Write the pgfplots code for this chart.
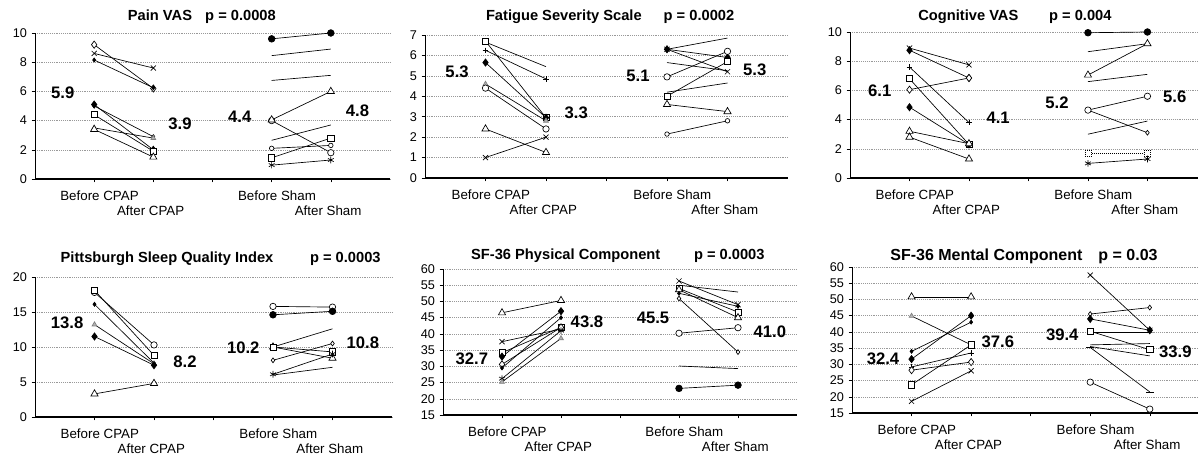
\documentclass[border=0pt]{standalone}
\usepackage{fontspec}
\setmainfont{Liberation Sans}
\usepackage{pgfplots}
\pgfplotsset{compat=1.18}

% marker styles for the subject lines
\pgfplotsset{
  od/.style={mark=diamond*, mark size=2.7pt, mark options={fill=white, draw=black}},
  sod/.style={mark=diamond*, mark size=1.8pt, mark options={fill=white, draw=black}},
  fd/.style={mark=diamond*, mark size=2.7pt},
  sd/.style={mark=diamond*, mark size=1.5pt},
  xx/.style={mark=x, mark size=2.7pt},
  sq/.style={mark=square*, mark size=2.3pt, mark options={fill=white, draw=black}},
  tr/.style={mark=triangle*, mark size=3.1pt, mark options={fill=white, draw=black}},
  str/.style={mark=triangle*, mark size=2.1pt, mark options={fill=gray!60, draw=gray}},
  fc/.style={mark=*, mark size=2.5pt},
  oc/.style={mark=*, mark size=2.4pt, mark options={fill=white, draw=black}},
  soc/.style={mark=*, mark size=1.7pt, mark options={fill=white, draw=black}},
  as/.style={mark=asterisk, mark size=2.5pt},
  pl/.style={mark=+, mark size=2.1pt},
  nm/.style={mark=none},
  panel/.style={
    scale only axis,
    anchor=south west,
    axis x line*=bottom, axis y line*=left,
    xmin=0, xmax=6,
    xtick={1,4}, xticklabels={Before CPAP, Before Sham},
    minor xtick={3},
    extra x ticks={2,5}, extra x tick labels={After CPAP, After Sham},
    extra x tick style={grid=none, xticklabel style={xshift=-6pt, yshift=-11pt}},
    ymajorgrids,
    major grid style={densely dotted, gray!80, line width=0.4pt},
    tick align=outside, tick style={black, line width=0.4pt},
    major tick length=2.5pt, minor tick length=2.5pt,
    xticklabel style={font=\fontsize{10}{12}\selectfont, xshift=4pt, yshift=-3pt},
    yticklabel style={font=\fontsize{9.5}{11}\selectfont},
    /pgf/number format/assume math mode=true,
    x axis line style={line width=1pt},
    y axis line style={line width=0.5pt},
    title style={font=\bfseries\fontsize{11}{13}\selectfont, anchor=center},
    clip=false,
    every axis plot/.append style={black, line width=0.5pt, mark options={solid}},
  },
}
\tikzset{meanl/.style={font=\bfseries\fontsize{12.5}{14}\selectfont}}

\begin{document}
\begin{tikzpicture}
\useasboundingbox (0,0) rectangle (898.5pt,342pt);

% ---------------- Pain VAS
\begin{axis}[panel, at={(26.25pt,207.75pt)}, width=266.25pt, height=109.5pt,
  ymin=0, ymax=10, ytick={0,2,...,10},
  title={Pain VAS\hspace{0.9em}p = 0.0008},
  title style={at={(0.47,1)}, yshift=6pt}]
\addplot[od]  coordinates {(1,9.2) (2,6.2)};
\addplot[xx]  coordinates {(1,8.6) (2,7.6)};
\addplot[sd]  coordinates {(1,8.15) (2,6.25)};
\addplot[fd]  coordinates {(1,5.1) (2,2.0)};
\addplot[sd]  coordinates {(1,5.0) (2,2.9)};
\addplot[sq]  coordinates {(1,4.4) (2,1.9)};
\addplot[str] coordinates {(1,3.5) (2,2.8)};
\addplot[tr]  coordinates {(1,3.4) (2,1.5)};
\addplot[fc]  coordinates {(4,9.6) (5,10.0)};
\addplot[nm]  coordinates {(4,8.45) (5,8.9)};
\addplot[nm]  coordinates {(4,6.75) (5,7.1)};
\addplot[oc]  coordinates {(4,4.0) (5,1.8)};
\addplot[tr]  coordinates {(4,4.05) (5,6.0)};
\addplot[nm]  coordinates {(4,2.65) (5,3.7)};
\addplot[soc] coordinates {(4,2.1) (5,2.3)};
\addplot[sq]  coordinates {(4,1.45) (5,2.8)};
\addplot[as]  coordinates {(4,0.95) (5,1.3)};
\node[meanl] at (axis cs:0.47,5.9) {5.9};
\node[meanl] at (axis cs:2.45,3.8) {3.9};
\node[meanl] at (axis cs:3.46,4.27) {4.4};
\node[meanl] at (axis cs:5.45,4.7) {4.8};
\end{axis}

% ---------------- Fatigue Severity Scale
\begin{axis}[panel, at={(318.75pt,208.5pt)}, width=272.25pt, height=107.25pt,
  ymin=0, ymax=7, ytick={0,1,...,7},
  title={Fatigue Severity Scale\hspace{1.5em}p = 0.0002},
  title style={at={(0.51,1)}, yshift=7.5pt}]
\addplot[sq]  coordinates {(1,6.7) (2,2.95)};
\addplot[nm]  coordinates {(1,6.65) (2,5.45)};
\addplot[pl]  coordinates {(1,6.25) (2,4.85)};
\addplot[fd]  coordinates {(1,5.65) (2,2.95)};
\addplot[str] coordinates {(1,4.6) (2,2.8)};
\addplot[oc]  coordinates {(1,4.4) (2,2.4)};
\addplot[tr]  coordinates {(1,2.4) (2,1.25)};
\addplot[xx]  coordinates {(1,1.0) (2,2.0)};
\addplot[nm]  coordinates {(4,6.3) (5,6.85)};
\addplot[xx]  coordinates {(4,6.3) (5,5.2)};
\addplot[fd]  coordinates {(4,6.3) (5,5.9)};
\addplot[nm]  coordinates {(4,5.65) (5,5.25)};
\addplot[oc]  coordinates {(4,4.95) (5,6.2)};
\addplot[nm]  coordinates {(4,4.2) (5,4.65)};
\addplot[sq]  coordinates {(4,4.0) (5,5.7)};
\addplot[tr]  coordinates {(4,3.6) (5,3.25)};
\addplot[soc] coordinates {(4,2.15) (5,2.8)};
\node[meanl] at (axis cs:0.53,5.2) {5.3};
\node[meanl] at (axis cs:2.5,3.2) {3.3};
\node[meanl] at (axis cs:3.52,5.0) {5.1};
\node[meanl] at (axis cs:5.45,5.3) {5.3};
\end{axis}

% ---------------- Cognitive VAS
\begin{axis}[panel, at={(637.5pt,208.5pt)}, width=261pt, height=109.5pt,
  xmax=5.85, ymin=0, ymax=10, ytick={0,2,...,10},
  title={Cognitive VAS\hspace{2.1em}p = 0.004},
  title style={at={(0.474,1)}, yshift=5.25pt}]
\addplot[xx]  coordinates {(1,8.9) (2,7.75)};
\addplot[fd]  coordinates {(1,8.75) (2,6.85)};
\addplot[pl]  coordinates {(1,7.6) (2,3.8)};
\addplot[sq]  coordinates {(1,6.8) (2,2.3)};
\addplot[od]  coordinates {(1,6.05) (2,6.85)};
\addplot[fd]  coordinates {(1,4.85) (2,2.3)};
\addplot[tr]  coordinates {(1,3.2) (2,2.35)};
\addplot[tr]  coordinates {(1,2.8) (2,1.3)};
\addplot[fc]  coordinates {(4,9.95) (5,10.0)};
\addplot[nm]  coordinates {(4,8.65) (5,9.2)};
\addplot[tr]  coordinates {(4,7.05) (5,9.2)};
\addplot[nm]  coordinates {(4,6.6) (5,7.1)};
\addplot[sod] coordinates {(4,4.65) (5,3.1)};
\addplot[oc]  coordinates {(4,4.65) (5,5.6)};
\addplot[nm]  coordinates {(4,3.0) (5,3.9)};
\addplot[sq, densely dotted] coordinates {(4,1.7) (5,1.7)};
\addplot[as]  coordinates {(4,1.0) (5,1.3)};
\node[meanl] at (axis cs:0.5,6.0) {6.1};
\node[meanl] at (axis cs:2.49,4.1) {4.1};
\node[meanl] at (axis cs:3.48,5.16) {5.2};
\node[meanl] at (axis cs:5.46,5.57) {5.6};
\end{axis}

% ---------------- Pittsburgh Sleep Quality Index
\begin{axis}[panel, at={(26.25pt,29.25pt)}, width=267.75pt, height=105pt,
  ymin=0, ymax=20, ytick={0,5,...,20},
  title={Pittsburgh Sleep Quality Index\hspace{2.5em}p = 0.0003},
  title style={at={(0.52,1)}, yshift=8pt}]
\addplot[oc]  coordinates {(1,17.8) (2,10.3)};
\addplot[sq]  coordinates {(1,18.1) (2,8.8)};
\addplot[sd]  coordinates {(1,16.1) (2,7.7)};
\addplot[str] coordinates {(1,13.2) (2,7.6)};
\addplot[fd]  coordinates {(1,11.5) (2,7.4)};
\addplot[tr]  coordinates {(1,3.3) (2,4.8)};
\addplot[oc]  coordinates {(4,15.8) (5,15.7)};
\addplot[fc]  coordinates {(4,14.6) (5,15.1)};
\addplot[nm]  coordinates {(4,10.0) (5,12.6)};
\addplot[tr]  coordinates {(4,10.0) (5,8.4)};
\addplot[sq]  coordinates {(4,10.0) (5,9.3)};
\addplot[sod] coordinates {(4,8.1) (5,10.5)};
\addplot[as]  coordinates {(4,6.1) (5,9.0)};
\addplot[nm]  coordinates {(4,6.0) (5,7.1)};
\node[meanl] at (axis cs:0.54,13.5) {13.8};
\node[meanl] at (axis cs:2.52,7.96) {8.2};
\node[meanl] at (axis cs:3.5,9.96) {10.2};
\node[meanl] at (axis cs:5.51,10.57) {10.8};
\end{axis}

% ---------------- SF-36 Physical Component
\begin{axis}[panel, at={(332.25pt,30.75pt)}, width=265.5pt, height=109.5pt,
  ymin=15, ymax=60, ytick={15,20,...,60},
  title={SF-36 Physical Component\hspace{2.3em}p = 0.0003},
  title style={at={(0.494,1)}, yshift=4pt}]
\addplot[tr]  coordinates {(1,46.5) (2,50.3)};
\addplot[xx]  coordinates {(1,37.6) (2,41.5)};
\addplot[sq]  coordinates {(1,34.2) (2,42.0)};
\addplot[fd]  coordinates {(1,33.0) (2,47.0)};
\addplot[od]  coordinates {(1,30.6) (2,42.0)};
\addplot[sd]  coordinates {(1,29.5) (2,45.0)};
\addplot[as]  coordinates {(1,26.2) (2,41.0)};
\addplot[str] coordinates {(1,25.2) (2,38.6)};
\addplot[xx]  coordinates {(4,56.3) (5,49.0)};
\addplot[nm]  coordinates {(4,55.0) (5,52.9)};
\addplot[sq]  coordinates {(4,54.0) (5,46.7)};
\addplot[tr]  coordinates {(4,53.6) (5,45.0)};
\addplot[sd]  coordinates {(4,52.5) (5,48.5)};
\addplot[sod] coordinates {(4,50.9) (5,34.4)};
\addplot[oc]  coordinates {(4,40.2) (5,41.9)};
\addplot[nm]  coordinates {(4,30.1) (5,29.3)};
\addplot[fc]  coordinates {(4,23.2) (5,24.2)};
\node[meanl] at (axis cs:0.49,32.3) {32.7};
\node[meanl] at (axis cs:2.44,43.6) {43.8};
\node[meanl] at (axis cs:3.56,44.9) {45.5};
\node[meanl] at (axis cs:5.54,40.8) {41.0};
\end{axis}

% ---------------- SF-36 Mental Component
\begin{axis}[panel, at={(639pt,32.25pt)}, width=259.5pt, height=109.5pt,
  xmax=5.81, ymin=15, ymax=60, ytick={15,20,...,60},
  title={SF-36 Mental Component\hspace{1em}p = 0.03},
  title style={at={(0.497,1)}, yshift=2pt, font=\bfseries\fontsize{12}{14}\selectfont}]
\addplot[tr]  coordinates {(1,50.8) (2,50.8)};
\addplot[str] coordinates {(1,44.9) (2,36.0)};
\addplot[sd]  coordinates {(1,34.0) (2,43.0)};
\addplot[fd]  coordinates {(1,31.6) (2,45.0)};
\addplot[pl]  coordinates {(1,29.2) (2,33.5)};
\addplot[od]  coordinates {(1,28.2) (2,30.7)};
\addplot[sq]  coordinates {(1,23.7) (2,36.0)};
\addplot[xx]  coordinates {(1,18.6) (2,28.0)};
\addplot[xx]  coordinates {(4,57.5) (5,40.5)};
\addplot[sod] coordinates {(4,45.5) (5,47.5)};
\addplot[fd]  coordinates {(4,44.0) (5,40.5)};
\addplot[nm]  coordinates {(4,40.0) (5,40.0)};
\addplot[sq]  coordinates {(4,40.2) (5,34.5)};
\addplot[nm]  coordinates {(4,36.0) (5,36.4)};
\addplot[nm]  coordinates {(4,35.5) (5,32.6)};
\addplot[nm, mark=-, mark size=3pt] coordinates {(4,35.2) (5,21.5)};
\addplot[oc]  coordinates {(4,24.5) (5,16.2)};
\node[meanl] at (axis cs:0.52,31.7) {32.4};
\node[meanl] at (axis cs:2.45,37.1) {37.6};
\node[meanl] at (axis cs:3.53,39.1) {39.4};
\node[meanl] at (axis cs:5.43,33.8) {33.9};
\end{axis}
\end{tikzpicture}
\end{document}
